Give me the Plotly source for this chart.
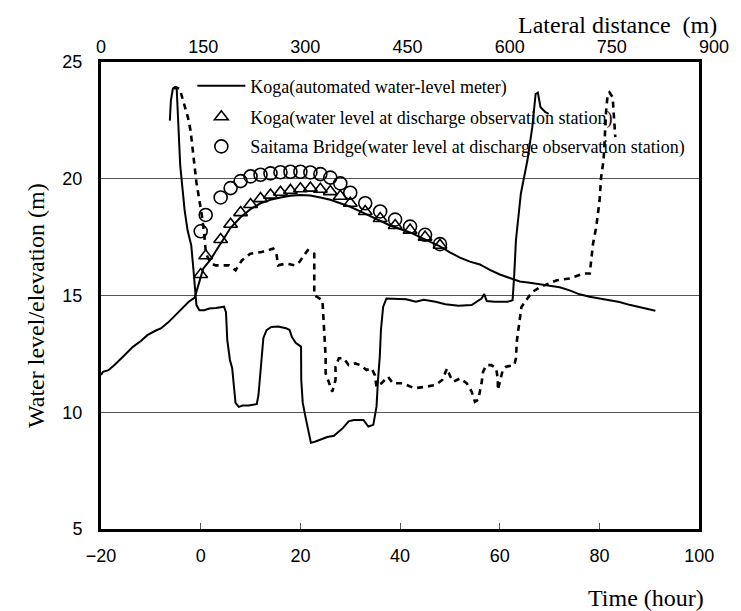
import plotly.graph_objects as go

# ---- Time series (bottom axis: Time, hour) ----
koga_meter_t = [-20, -19.6, -18.5, -17.3, -15.5, -13.6, -12, -10.7, -9, -8,
                -6.5, -5.1, -3.5, -2.4, -1.2, -0.5, 0.5, 2, 3.5, 5,
                6, 8, 10, 12, 14, 16, 18, 20, 22, 24,
                26, 28, 30, 32, 34, 36, 38, 40, 42, 44,
                46, 48, 50, 52, 54, 56, 58, 60, 62, 64,
                66, 68, 70, 72, 74, 76, 78, 80, 82, 84,
                86, 88, 90, 91.2]
koga_meter_wl = [11.6, 11.73, 11.8, 12.02, 12.4, 12.8, 13.05, 13.3, 13.5, 13.59,
                 13.85, 14.16, 14.5, 14.73, 14.91, 15.4, 16.15, 16.55, 17.05, 17.55,
                 17.9, 18.35, 18.7, 18.95, 19.1, 19.2, 19.27, 19.3, 19.28, 19.2,
                 19.1, 18.95, 18.8, 18.6, 18.4, 18.2, 18.0, 17.85, 17.7, 17.5,
                 17.3, 17.1, 16.85, 16.62, 16.45, 16.33, 16.1, 15.9, 15.75, 15.6,
                 15.55, 15.48, 15.42, 15.35, 15.22, 15.05, 14.95, 14.87, 14.8, 14.72,
                 14.6, 14.5, 14.42, 14.35]

koga_obs_t = [0, 1, 4, 6, 8, 10, 12, 14, 16, 18, 20, 22, 24, 26, 28, 30, 33, 36, 39, 42, 45, 48]
koga_obs_wl = [15.9, 16.7, 17.4, 18.05, 18.55, 18.9, 19.15, 19.3, 19.42, 19.5, 19.57,
               19.6, 19.55, 19.45, 19.25, 18.95, 18.6, 18.3, 18.0, 17.8, 17.5, 17.15]

saitama_obs_t = [0, 1, 4, 6, 8, 10, 12, 14, 16, 18, 20, 22, 24, 26, 28, 30, 33, 36, 39, 42, 45, 48]
saitama_obs_wl = [17.75, 18.45, 19.2, 19.6, 19.9, 20.1, 20.17, 20.23, 20.28, 20.3, 20.3,
                  20.27, 20.2, 20.05, 19.8, 19.4, 18.95, 18.6, 18.25, 17.95, 17.6, 17.2]

# ---- Cross sections (top axis: Lateral distance, m) ----
koga_section_dist = [101.1, 102.6, 105.5, 108.4, 111.2, 112.7, 114.1, 116.3, 119.9, 122.8,
                     127.1, 132.5, 135.8, 139.7, 140.1, 144.5, 151.7, 158.9, 168.6, 180.6,
                     183.5, 185.4, 189.3, 192.6, 195.0, 197.5, 202.3, 208.0, 216.7, 228.7,
                     231.2, 233.6, 236.2, 238.4, 243.1, 249.9, 260.0, 271.6, 276.9, 280.3,
                     286.1, 293.7, 294.0, 296.2, 300.5, 303.4, 308.2, 314.9, 322.6, 332.3,
                     342.0, 346.7, 355.4, 363.6, 370.9, 385.3, 392.5, 399.8, 404.5, 406.7,
                     409.3, 411.0, 414.2, 419.0, 430.5, 438.2, 447.9, 462.3, 473.9, 491.2,
                     505.6, 524.9, 544.2, 558.7, 562.7, 566.3, 577.9, 597.1, 604.3, 606.8,
                     609.2, 616.4, 626.0, 633.2, 638.1, 641.4, 645.3, 652.5, 657.3]
koga_section_elev = [22.49, 23.35, 23.86, 23.92, 23.82, 22.92, 21.85, 20.57, 19.50, 18.65,
                     17.79, 17.15, 16.08, 14.93, 14.59, 14.37, 14.37, 14.44, 14.46, 14.52,
                     14.29, 13.09, 12.24, 11.89, 11.17, 10.40, 10.23, 10.29, 10.29, 10.35,
                     10.74, 11.47, 12.45, 13.18, 13.52, 13.65, 13.67, 13.60, 13.52, 13.22,
                     12.96, 12.81, 11.38, 10.40, 9.76, 9.37, 8.69, 8.75, 8.82, 8.94,
                     8.99, 9.12, 9.33, 9.61, 9.67, 9.67, 9.39, 9.46, 10.24, 11.38,
                     12.38, 13.52, 14.51, 14.87, 14.87, 14.87, 14.84, 14.73, 14.82, 14.73,
                     14.63, 14.56, 14.59, 14.87, 15.06, 14.76, 14.73, 14.73, 14.80, 15.94,
                     17.36, 19.36, 20.78, 22.21, 23.63, 23.69, 23.06, 22.85, 22.78]

saitama_section_dist = [106.9, 109.8, 115.6, 120.3, 127.6, 131.5, 134.8, 137.2, 140.1, 144.5,
                        148.8, 151.7, 154.1, 161.4, 168.6, 187.8, 197.5, 207.0, 219.2, 235.9,
                        252.8, 257.6, 260.0, 272.0, 284.2, 291.4, 303.4, 313.1, 313.1, 325.1,
                        327.5, 329.8, 329.8, 334.7, 339.5, 344.3, 344.3, 349.2, 356.4, 363.6,
                        373.2, 380.4, 390.1, 397.3, 402.1, 404.5, 411.7, 421.4, 428.6, 443.1,
                        459.8, 476.8, 491.2, 500.9, 508.1, 512.9, 517.6, 527.3, 537.0, 544.2,
                        549.0, 553.8, 558.7, 561.0, 565.9, 573.1, 580.3, 582.6, 582.6, 589.9,
                        594.8, 606.8, 609.2, 610.7, 614.0, 617.3, 626.0, 633.2, 645.3, 669.3,
                        688.7, 707.9, 717.6, 719.9, 722.4, 727.1, 732.0, 734.3, 737.8, 739.2,
                        741.6, 744.0, 746.5, 751.2, 753.7, 755.1]
saitama_section_elev = [23.86, 23.92, 23.85, 23.35, 22.63, 22.06, 21.21, 20.44, 19.84, 19.07,
                        18.30, 17.58, 16.79, 16.37, 16.29, 16.29, 16.08, 16.51, 16.79, 16.86,
                        17.01, 16.79, 16.29, 16.37, 16.29, 16.44, 16.94, 16.79, 15.01, 14.80,
                        13.66, 12.38, 11.67, 11.24, 10.88, 11.38, 11.95, 12.31, 12.31, 12.02,
                        12.09, 12.02, 11.81, 11.88, 11.59, 11.09, 11.24, 11.52, 11.24, 11.24,
                        11.03, 11.09, 11.17, 11.38, 11.88, 11.52, 11.31, 11.45, 11.24, 10.88,
                        10.45, 10.53, 11.24, 11.74, 12.02, 12.02, 11.88, 11.38, 10.95, 11.81,
                        11.95, 12.02, 12.31, 13.09, 13.80, 14.51, 14.87, 15.15, 15.37, 15.65,
                        15.73, 15.94, 15.94, 16.51, 17.22, 17.93, 19.07, 20.07, 20.78, 21.50,
                        22.92, 23.63, 23.70, 23.49, 22.49, 21.78]

time_ticks = [-20, 0, 20, 40, 60, 80, 100]
dist_ticks = [0, 150, 300, 450, 600, 750, 900]
wl_ticks = [5, 10, 15, 20, 25]

SERIF = "Liberation Serif"
SANS = "Liberation Sans"

fig = go.Figure()

fig.add_trace(go.Scatter(
    x=koga_meter_t, y=koga_meter_wl, mode="lines",
    line=dict(color="black", width=2),
    name="Koga(automated water-level meter)", legend="legend"))
fig.add_trace(go.Scatter(
    x=koga_obs_t, y=koga_obs_wl, mode="markers",
    marker=dict(symbol="triangle-up-open", size=12, color="black", line=dict(width=1.6, color="black")),
    name="Koga(water level at discharge observation station)", legend="legend2"))
fig.add_trace(go.Scatter(
    x=saitama_obs_t, y=saitama_obs_wl, mode="markers",
    marker=dict(symbol="circle-open", size=13, color="black", line=dict(width=1.6, color="black")),
    name="Saitama Bridge(water level at discharge observation station)", legend="legend3"))

fig.add_trace(go.Scatter(
    x=koga_section_dist, y=koga_section_elev, xaxis="x2", yaxis="y2", mode="lines",
    line=dict(color="black", width=2), showlegend=False))
fig.add_trace(go.Scatter(
    x=saitama_section_dist, y=saitama_section_elev, xaxis="x2", yaxis="y2", mode="lines",
    line=dict(color="black", width=2.6, dash="6px,5px"), showlegend=False))

tickfont = dict(family=SANS, size=18, color="black")
legfont = dict(family=SERIF, size=18, color="black")
leg_common = dict(xanchor="left", yanchor="middle", bgcolor="rgba(0,0,0,0)",
                  borderwidth=0, font=legfont, itemwidth=48)

fig.update_layout(
    width=741, height=611,
    margin=dict(l=101, r=18, t=62, b=82),
    paper_bgcolor="white", plot_bgcolor="rgba(0,0,0,0)",
    font=dict(family=SERIF, color="black"),
    xaxis=dict(domain=[0, 0.9759], range=[-20, 100], tickvals=time_ticks,
               ticks="inside", ticklen=6, tickwidth=1, tickcolor="#555",
               showline=True, linewidth=3, linecolor="black", mirror=True,
               showgrid=False, zeroline=False, tickfont=tickfont,
               ticklabelstandoff=8, anchor="y"),
    yaxis=dict(domain=[0, 1], range=[5, 25], tickvals=wl_ticks, ticks="",
               showline=True, linewidth=3, linecolor="black", mirror=True,
               showgrid=True, gridcolor="#555", gridwidth=1, zeroline=False,
               tickfont=tickfont, ticklabelstandoff=12, anchor="x"),
    xaxis2=dict(domain=[0, 1], range=[0, 900], tickvals=dist_ticks, side="top",
                anchor="y2", showline=False, ticks="", showgrid=False, zeroline=False,
                tickfont=tickfont, ticklabelstandoff=4),
    yaxis2=dict(domain=[0, 1], range=[5, 25], anchor="x2", visible=False,
                showgrid=False, zeroline=False),
    legend=dict(x=0.1490, y=0.9486, **leg_common),
    legend2=dict(x=0.1490, y=0.8822, **leg_common),
    legend3=dict(x=0.1490, y=0.8186, **leg_common),
    annotations=[
        dict(text="Lateral distance  (m)", xref="paper", yref="paper",
             x=1.008, y=1.0792, xanchor="right", yanchor="middle",
             showarrow=False, font=dict(family=SERIF, size=24, color="black")),
        dict(text="Time (hour)", xref="paper", yref="paper",
             x=0.987, y=-0.1478, xanchor="right", yanchor="middle",
             showarrow=False, font=dict(family=SERIF, size=24, color="black")),
        dict(text="Water level/elevation (m)", xref="paper", yref="paper",
             x=-0.1061, y=0.4797, xanchor="center", yanchor="middle", textangle=-90,
             showarrow=False, font=dict(family=SERIF, size=24, color="black")),
    ],
)

fig.write_html("out.html")
